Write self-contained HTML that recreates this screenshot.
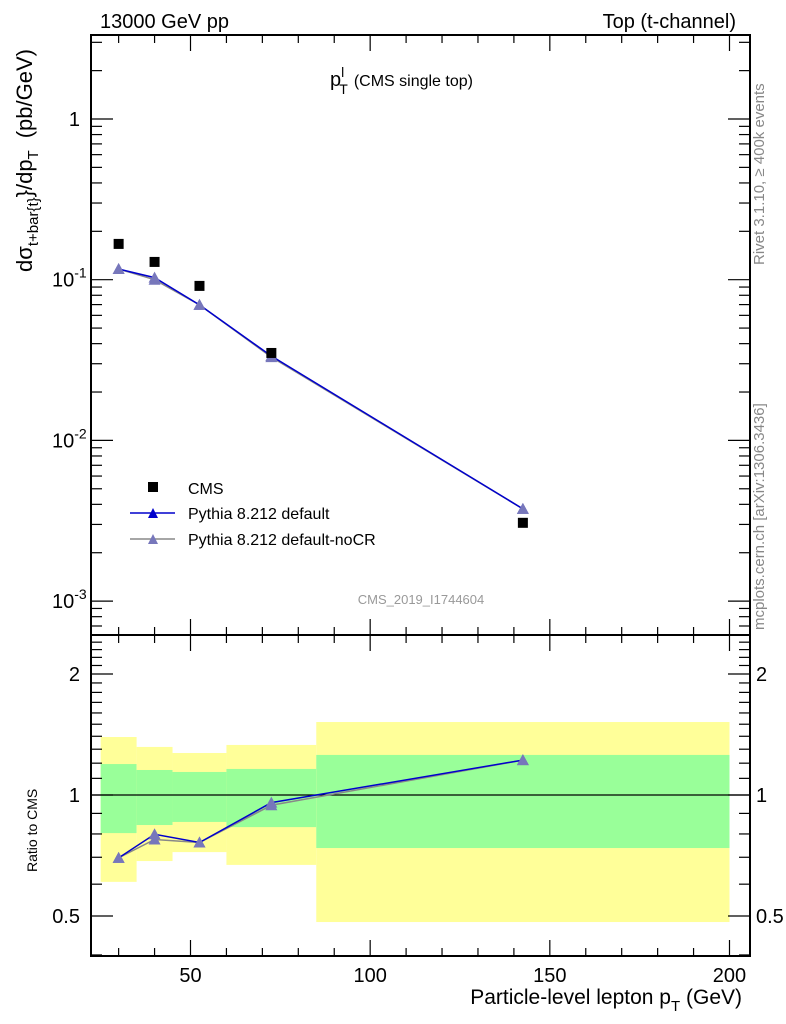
<!DOCTYPE html>
<html><head><meta charset="utf-8"><style>
html,body{margin:0;padding:0;background:#fff;}
svg{display:block;font-family:"Liberation Sans",sans-serif;}
</style></head><body>
<svg id="chart" width="786" height="1024" viewBox="0 0 786 1024" xmlns="http://www.w3.org/2000/svg">
<g id="bands"></g>
<g id="marks"></g>
<g id="axes"></g>
<text x="100" y="28" font-size="20">13000 GeV pp</text>
<text x="736" y="28" font-size="20" text-anchor="end">Top (t-channel)</text>
<text x="330" y="86" font-size="20">p<tspan font-size="14" dy="-9">l</tspan><tspan font-size="14" dx="-5" dy="17">T</tspan><tspan font-size="16" dy="-8" dx="6">(CMS single top)</tspan></text>
<text x="421" y="604" font-size="13" fill="#999" text-anchor="middle">CMS_2019_I1744604</text>
<text transform="translate(764,265) rotate(-90)" font-size="15" fill="#888">Rivet 3.1.10, ≥ 400k events</text>
<text transform="translate(764,630) rotate(-90)" font-size="15" fill="#888">mcplots.cern.ch [arXiv:1306.3436]</text>
<text transform="translate(32,272) rotate(-90)" font-size="22">dσ<tspan font-size="15" dy="6">t+bar{t}</tspan><tspan dy="-6">}/dp</tspan><tspan font-size="15" dy="6">T</tspan><tspan dy="-6" dx="12">(pb/GeV)</tspan></text>
<text transform="translate(37,872) rotate(-90)" font-size="14">Ratio to CMS</text>
<text x="742" y="1004" font-size="21" text-anchor="end">Particle-level lepton p<tspan font-size="15" dy="7">T</tspan><tspan dy="-7"> (GeV)</tspan></text>
<g>
 <rect x="148" y="482" width="10" height="10" fill="#000"/>
 <text x="188" y="494" font-size="16">CMS</text>
 <line x1="130" y1="513" x2="175" y2="513" stroke="#00c" stroke-width="1.5"/>
 <polygon points="148,518 158,518 153,508" fill="#00c"/>
 <text x="188" y="519" font-size="16">Pythia 8.212 default</text>
 <line x1="130" y1="539" x2="175" y2="539" stroke="#888" stroke-width="1.5"/>
 <polygon points="148,544 158,544 153,534" fill="#7777bb"/>
 <text x="188" y="545" font-size="16">Pythia 8.212 default-noCR</text>
</g>
</svg>
<script>
const binEdges=[25,35,45,60,85,200];
const xCenters=[30,40,52.5,72.5,142.5];
const cmsValues=[0.167,0.129,0.0915,0.0350,0.00307];
const pythiaDefault=[0.1165,0.1030,0.0697,0.0335,0.00375];
const pythiaNoCR=[0.1165,0.1000,0.0697,0.0330,0.00375];
const yellowUp=[1.394,1.317,1.272,1.332,1.519];
const yellowLo=[0.608,0.685,0.721,0.670,0.483];
const greenUp=[1.194,1.154,1.141,1.161,1.258];
const greenLo=[0.804,0.842,0.857,0.832,0.738];
const xTickLabels=[50,100,150,200];
const yTickLabels=["1","10","10","10"];
const yTickExps=[0,-1,-2,-3];
const ratioTicks=[0.5,1,2];

const NS="http://www.w3.org/2000/svg";
const L=91,R=750,T=35,M=635,B=956;
const X=v=>190.5+(v-50)*3.5933;
const Y=v=>119-Math.log10(v)*160.7;
const RY=v=>795-Math.log2(v)*121;
function mk(tag,attrs,parent){const e=document.createElementNS(NS,tag);for(const k in attrs)e.setAttribute(k,attrs[k]);parent.appendChild(e);return e;}
const bands=document.getElementById('bands'),marks=document.getElementById('marks'),axes=document.getElementById('axes');

for(let i=0;i<xCenters.length;i++){
 const x0=X(binEdges[i]),x1=X(binEdges[i+1]);
 const y=mk('rect',{x:x0,y:RY(yellowUp[i]),width:x1-x0,height:RY(yellowLo[i])-RY(yellowUp[i]),fill:'#ffff99'},bands);
 
 
 const g=mk('rect',{x:x0,y:RY(greenUp[i]),width:x1-x0,height:RY(greenLo[i])-RY(greenUp[i]),fill:'#99ff99'},bands);
 
 
}
mk('line',{x1:L,x2:R,y1:RY(1),y2:RY(1),stroke:'#000','stroke-width':1.2},bands);

function tri(x,y,fill,name){const p=mk('polygon',{points:`${x-6},${y+5} ${x+6},${y+5} ${x},${y-6}`,fill:fill},marks);
 
 }
function series(vals,stroke,fill,name,ratio){
 const pts=xCenters.map((x,i)=>`${X(x)},${ratio?RY(vals[i]/cmsValues[i]):Y(vals[i])}`).join(' ');
 const pl=mk('polyline',{points:pts,fill:'none',stroke:stroke,'stroke-width':1.5},marks);
 
 
 xCenters.forEach((x,i)=>tri(X(x),ratio?RY(vals[i]/cmsValues[i]):Y(vals[i]),fill,name+'-point'));
}
series(pythiaNoCR,'#888','#7777bb','pythia-nocr',false);
series(pythiaDefault,'#0000cc','#7777bb','pythia-default',false);
series(pythiaNoCR,'#888','#7777bb','ratio-pythia-nocr',true);
series(pythiaDefault,'#0000cc','#7777bb','ratio-pythia-default',true);
xCenters.forEach((x,i)=>{const r=mk('rect',{x:X(x)-5,y:Y(cmsValues[i])-5,width:10,height:10,fill:'#000'},marks);
 
 });

[[T,M],[M,B]].forEach(([a,b])=>mk('rect',{x:L,y:a,width:R-L,height:b-a,fill:'none',stroke:'#000','stroke-width':2},axes));
for(let v=30;v<=200;v+=10){const maj=v%50===0,len=maj?16:8;
 [[T,1],[M,-1],[M,1],[B,-1]].forEach(([y,d])=>mk('line',{x1:X(v),x2:X(v),y1:y,y2:y+d*len,stroke:'#000','stroke-width':1.2},axes));}
xTickLabels.forEach(v=>{const t=mk('text',{x:X(v),y:982,'font-size':20,'text-anchor':'middle'},axes);t.textContent=v;
 
 });
for(let e=-4;e<=1;e++)for(let m=1;m<10;m++){const v=m*Math.pow(10,e),y=Y(v);if(y<T||y>M)continue;const len=m===1?22:11;
 mk('line',{x1:L,x2:L+len,y1:y,y2:y,stroke:'#000','stroke-width':1.2},axes);
 mk('line',{x1:R,x2:R-len,y1:y,y2:y,stroke:'#000','stroke-width':1.2},axes);}
yTickExps.forEach((e,i)=>{const t=mk('text',{x:e===0?80:52,y:Y(Math.pow(10,e))+7,'font-size':20,'text-anchor':e===0?'end':'start'},axes);
 
 
 t.textContent=yTickLabels[i];
 if(e!==0){const s=mk('tspan',{'font-size':14,dy:-9},t);s.textContent=String(e);}});
for(let v=0.4;v<=2.51;v+=0.1){const y=RY(v);if(y<M||y>B)continue;const maj=[0.5,1,2].some(r=>Math.abs(r-v)<1e-6),len=maj?22:11;
 mk('line',{x1:L,x2:L+len,y1:y,y2:y,stroke:'#000','stroke-width':1.2},axes);
 mk('line',{x1:R,x2:R-len,y1:y,y2:y,stroke:'#000','stroke-width':1.2},axes);}
ratioTicks.forEach(v=>{[[80,'end'],[756,'start']].forEach(([x,a])=>{const t=mk('text',{x:x,y:RY(v)+7,'font-size':20,'text-anchor':a},axes);t.textContent=v;
 
 });});
</script>
</body></html>
